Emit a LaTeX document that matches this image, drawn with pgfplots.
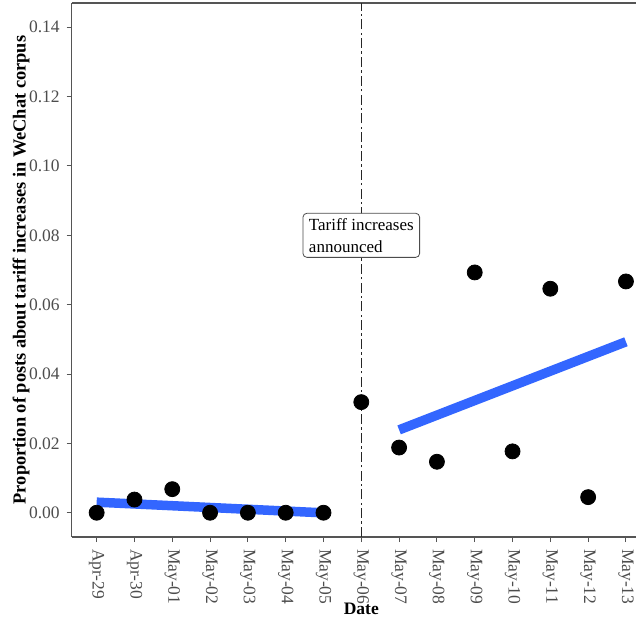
\documentclass[border=0pt]{standalone}
\usepackage{pgfplots}
\pgfplotsset{compat=1.18}
\usepackage{fontspec}
\setmainfont{Liberation Serif}
\definecolor{fitblue}{HTML}{3366FF}
\definecolor{ticklab}{HTML}{4D4D4D}
\definecolor{axline}{HTML}{555555}
\begin{document}
\begin{tikzpicture}
\path[use as bounding box] (-35.85pt,-43pt) rectangle (282.15pt,268.5pt);
\begin{axis}[
  scale only axis, width=289.6pt, height=267pt,
  xmin=-0.66, xmax=14.66, ymin=-0.007, ymax=0.147,
  axis lines*=left,
  axis line style={axline, line width=0.55pt},
  tick style={axline, line width=0.5pt},
  major tick length=2.5pt, tick align=outside,
  xtick={0,1,2,3,4,5,6,7,8,9,10,11,12,13,14},
  xticklabels={Apr-29,Apr-30,May-01,May-02,May-03,May-04,May-05,May-06,May-07,May-08,May-09,May-10,May-11,May-12,May-13},
  xticklabel style={rotate=-90, anchor=west, font=\fontsize{8.75}{10}\selectfont, text=ticklab, xshift=0pt},
  ytick={0,0.02,0.04,0.06,0.08,0.10,0.12,0.14},
  /pgf/number format/assume math mode=true,
  yticklabel style={/pgf/number format/.cd, fixed, fixed zerofill, precision=2, /tikz/.cd, font=\fontsize{8.75}{10}\selectfont, text=ticklab},
  scaled y ticks=false,
  xlabel={Date},
  xlabel style={at={(axis description cs:0.5,0)}, anchor=center, yshift=-36pt, font=\bfseries\fontsize{8.75}{10}\selectfont},
  ylabel={Proportion of posts about tariff increases in WeChat corpus},
  ylabel style={at={(axis description cs:-0.0875,0.5)}, anchor=center, font=\bfseries\fontsize{9.2}{11}\selectfont},
  clip=false,
]
\draw[axline, line width=0.55pt] (rel axis cs:0,1) -- (rel axis cs:1,1);
\addplot[black!85, line width=0.6pt, dash pattern=on 5pt off 1.6pt on 1.2pt off 1.6pt] coordinates {(7,-0.007) (7,0.147)};
\addplot[only marks, mark=*, mark size=3.75pt, black] coordinates {
(0,0) (1,0.0038) (2,0.0068) (3,0) (4,0) (5,0) (6,0)
(7,0.0319) (8,0.0188) (9,0.0147) (10,0.0693) (11,0.0177) (12,0.0646) (13,0.0045) (14,0.0667)};
\addplot[fitblue, line width=4.75pt, line cap=butt] coordinates {(0,0.00305) (6,-0.00003)};
\addplot[fitblue, line width=4.75pt, line cap=butt] coordinates {(8,0.0239) (14,0.0493)};
\node[draw=gray!60!black, rounded corners=2pt, fill=white, align=left, inner xsep=3pt, inner ysep=2.5pt,
  font=\fontsize{8.5}{11}\selectfont] at (axis cs:7,0.08) {Tariff increases\\announced};
\end{axis}
\end{tikzpicture}
\end{document}
